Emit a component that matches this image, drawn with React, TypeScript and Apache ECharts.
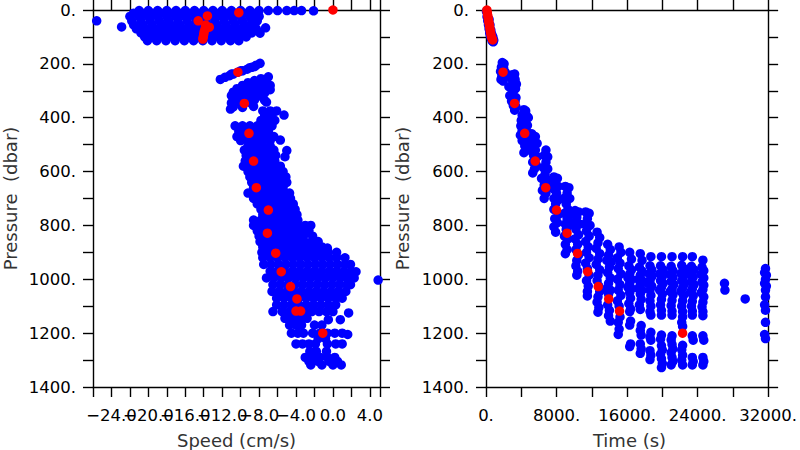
import React, { useEffect, useRef } from "react";
import * as echarts from "echarts";

// ---------- DATA ----------
// Left panel: speed (cm/s) vs pressure (dbar)
const speedBlueTop: [number, number][] = [
  [-21.0, 2], [-20.0, 2], [-19.0, 2], [-18.0, 2], [-17.0, 2], [-16.0, 2], [-15.0, 2], [-14.0, 2], [-13.0, 2], [-12.0, 2],
  [-11.0, 2], [-10.0, 2], [-9.0, 2], [-8.0, 2], [-7.0, 2], [-6.0, 2], [-5.0, 2], [-4.2, 2], [-3.4, 2], [-2.1, 3],
  [-21.6, 12], [-20.6, 12], [-19.6, 12], [-18.6, 12], [-17.6, 12], [-16.6, 12], [-15.6, 12], [-14.6, 12], [-13.6, 12],
  [-12.6, 12], [-11.6, 12], [-10.6, 12], [-9.6, 12], [-8.6, 12],
  [-22.0, 24], [-21.0, 24], [-20.0, 24], [-19.0, 24], [-18.0, 24], [-17.0, 24], [-16.0, 24], [-15.0, 24], [-14.0, 24],
  [-13.0, 24], [-12.0, 24], [-11.0, 24], [-10.0, 24], [-9.0, 24], [-8.0, 24],
  [-25.6, 40], [-21.8, 40], [-20.8, 40], [-19.8, 40], [-18.8, 40], [-17.8, 40], [-16.8, 40], [-15.8, 40], [-14.8, 40],
  [-13.8, 40], [-12.8, 40], [-11.8, 40], [-10.8, 40], [-9.8, 40], [-8.8, 40], [-8.2, 40],
  [-21.6, 55], [-20.6, 55], [-19.6, 55], [-18.6, 55], [-17.6, 55], [-16.6, 55], [-15.6, 55], [-14.6, 55], [-13.6, 55],
  [-12.6, 55], [-11.6, 55], [-10.6, 55], [-9.6, 55], [-8.6, 55],
  [-22.9, 63], [-7.3, 66],
  [-21.3, 70], [-20.3, 70], [-19.3, 70], [-18.3, 70], [-17.3, 70], [-16.3, 70], [-15.3, 70], [-14.3, 70], [-13.3, 70],
  [-12.3, 70], [-11.3, 70], [-10.3, 70], [-9.3, 70], [-8.3, 70],
  [-20.8, 85], [-19.8, 85], [-18.8, 85], [-17.8, 85], [-16.8, 85], [-15.8, 85], [-14.8, 85], [-13.8, 85], [-12.8, 85],
  [-11.8, 85], [-10.8, 85], [-9.8, 85], [-8.8, 85], [-7.9, 86],
  [-20.4, 100], [-19.4, 100], [-18.4, 100], [-17.4, 100], [-16.4, 100], [-15.4, 100], [-14.4, 100], [-13.4, 100],
  [-12.4, 100], [-11.4, 100], [-10.4, 100], [-9.4, 100],
  [-20.1, 114], [-19.1, 114], [-18.1, 114], [-17.1, 114], [-16.1, 114], [-15.1, 114], [-14.1, 114], [-13.1, 114],
  [-12.1, 114], [-11.1, 114], [-10.2, 114],
];

const speedBlueMid: [number, number][] = [
  [-12.2, 258], [-11.7, 250], [-11.2, 244], [-10.8, 238], [-10.3, 231], [-9.8, 226], [-9.3, 220], [-8.8, 213],
  [-8.3, 205], [-7.9, 198], [-11.0, 238], [-10.0, 226], [-9.0, 214], [-8.5, 210],
  [-7.0, 248], [-7.8, 255], [-8.5, 262], [-7.2, 265], [-9.2, 270], [-8.0, 272], [-6.8, 280], [-9.8, 280], [-8.6, 283],
  [-7.5, 287], [-10.4, 292], [-9.2, 294], [-8.0, 296], [-6.8, 296], [-10.8, 305], [-9.8, 305], [-8.6, 308], [-7.4, 308],
  [-11.0, 318], [-10.0, 318], [-9.0, 320], [-7.8, 320], [-10.6, 330], [-9.6, 332], [-8.5, 334], [-7.4, 336],
  [-11.0, 345], [-10.0, 345], [-8.8, 348], [-7.2, 342], [-10.8, 360], [-9.8, 362], [-8.6, 358], [-11.1, 368],
];

const speedBlueDeep: [number, number][] = [
  [-7.6, 375], [-6.8, 375], [-6.1, 375], [-7.4, 390], [-6.6, 390], [-5.3, 390], [-7.8, 410], [-7.0, 410], [-6.3, 410],
  [-10.6, 430], [-9.8, 430], [-9.0, 430], [-8.2, 430], [-7.4, 430], [-6.6, 430],
  [-10.2, 450], [-9.4, 450], [-8.6, 450], [-7.8, 450], [-7.0, 450],
  [-10.4, 470], [-9.6, 470], [-8.8, 470], [-8.0, 470], [-7.2, 470], [-6.4, 470],
  [-10.0, 485], [-9.2, 485], [-8.4, 485], [-7.6, 485], [-6.8, 485], [-5.7, 483],
  [-9.2, 505], [-8.4, 505], [-7.6, 505], [-6.8, 505],
  [-9.6, 520], [-8.8, 520], [-8.0, 520], [-7.2, 520], [-6.4, 520], [-5.0, 522],
  [-9.4, 540], [-8.6, 540], [-7.8, 540], [-7.0, 540], [-6.2, 540], [-5.2, 545],
  [-9.5, 560], [-8.7, 560], [-7.9, 560], [-7.1, 560], [-6.3, 560],
  [-9.7, 580], [-8.9, 580], [-8.1, 580], [-7.3, 580], [-6.5, 580], [-5.7, 580],
  [-9.2, 600], [-8.4, 600], [-7.6, 600], [-6.8, 600], [-6.0, 600], [-5.4, 600],
  [-9.0, 620], [-8.2, 620], [-7.4, 620], [-6.6, 620], [-5.8, 620], [-5.1, 620],
  [-8.8, 640], [-8.0, 640], [-7.2, 640], [-6.4, 640], [-5.6, 640], [-5.0, 640],
  [-8.6, 660], [-7.8, 660], [-7.0, 660], [-6.2, 660], [-5.4, 660],
  [-9.2, 680], [-8.4, 680], [-7.6, 680], [-6.8, 680], [-6.0, 680], [-5.2, 680], [-4.7, 680],
  [-8.6, 700], [-7.8, 700], [-7.0, 700], [-6.2, 700], [-5.4, 700], [-4.6, 700],
  [-8.2, 720], [-7.4, 720], [-6.6, 720], [-5.8, 720], [-5.0, 720], [-4.3, 720],
  [-7.8, 740], [-7.0, 740], [-6.2, 740], [-5.4, 740], [-4.6, 740], [-4.1, 740],
  [-7.6, 760], [-6.8, 760], [-6.0, 760], [-5.2, 760], [-4.4, 760], [-3.9, 760],
  [-8.6, 780], [-7.8, 780], [-7.0, 780], [-6.2, 780], [-5.4, 780], [-4.6, 780], [-3.8, 780],
  [-8.6, 800], [-7.8, 800], [-7.0, 800], [-6.2, 800], [-5.4, 800], [-4.6, 800], [-3.8, 800], [-3.0, 800], [-2.4, 800],
  [-8.2, 820], [-7.4, 820], [-6.6, 820], [-5.8, 820], [-5.0, 820], [-4.2, 820], [-3.4, 820], [-2.6, 820],
  [-8.0, 840], [-7.2, 840], [-6.4, 840], [-5.6, 840], [-4.8, 840], [-4.0, 840], [-3.2, 840], [-2.2, 840],
  [-7.9, 860], [-7.1, 860], [-6.3, 860], [-5.5, 860], [-4.7, 860], [-3.9, 860], [-3.1, 860], [-2.3, 860], [-1.6, 860],
  [-7.6, 880], [-6.8, 880], [-6.0, 880], [-5.2, 880], [-4.4, 880], [-3.6, 880], [-2.8, 880], [-2.0, 880], [-1.2, 880], [-0.6, 884],
  [-7.7, 900], [-6.9, 900], [-6.1, 900], [-5.3, 900], [-4.5, 900], [-3.7, 900], [-2.9, 900], [-2.1, 900], [-1.3, 900], [-0.5, 900], [0.4, 900],
  [-7.6, 920], [-6.8, 920], [-6.0, 920], [-5.2, 920], [-4.4, 920], [-3.6, 920], [-2.8, 920], [-2.0, 920], [-1.2, 920], [-0.4, 920], [0.4, 920], [1.3, 920],
  [-7.5, 945], [-6.7, 945], [-5.9, 945], [-5.1, 945], [-4.3, 945], [-3.5, 945], [-2.7, 945], [-1.9, 945], [-1.1, 945], [-0.3, 945], [0.5, 945], [1.3, 945], [1.9, 945],
  [-6.8, 970], [-6.0, 970], [-5.2, 970], [-4.4, 970], [-3.6, 970], [-2.8, 970], [-2.0, 970], [-1.2, 970], [-0.4, 970], [0.4, 970], [1.2, 970], [2.0, 970], [2.5, 972],
  [-7.2, 995], [-6.4, 995], [-5.6, 995], [-4.8, 995], [-4.0, 995], [-3.2, 995], [-2.4, 995], [-1.6, 995], [-0.8, 995], [0.0, 995], [0.8, 995], [1.6, 995], [2.3, 995],
  [4.9, 1003],
  [-6.5, 1020], [-5.7, 1020], [-4.9, 1020], [-4.1, 1020], [-3.3, 1020], [-2.5, 1020], [-1.7, 1020], [-0.9, 1020], [-0.1, 1020], [0.7, 1020], [1.5, 1020], [1.9, 1020],
  [-6.6, 1045], [-5.8, 1045], [-5.0, 1045], [-4.2, 1045], [-3.4, 1045], [-2.6, 1045], [-1.8, 1045], [-1.0, 1045], [-0.2, 1045], [0.6, 1045], [1.4, 1045],
  [-6.1, 1070], [-5.3, 1070], [-4.5, 1070], [-3.7, 1070], [-2.9, 1070], [-2.1, 1070], [-1.3, 1070], [-0.5, 1070], [0.3, 1070], [1.0, 1070],
  [-6.1, 1095], [-5.3, 1095], [-4.5, 1095], [-3.7, 1095], [-2.9, 1095], [-2.1, 1095], [-1.3, 1095], [-0.5, 1095], [0.3, 1095],
  [-6.5, 1120], [-5.5, 1120], [-4.7, 1120], [-3.9, 1120], [-3.1, 1120], [-2.3, 1120], [-1.5, 1120], [-0.7, 1120], [0.0, 1120], [1.7, 1125],
  [-5.2, 1145], [-4.4, 1145], [-3.6, 1145], [-2.8, 1145], [-0.5, 1150], [0.8, 1150],
  [-4.7, 1170], [-4.0, 1170], [-3.4, 1170], [-2.0, 1170], [-1.2, 1170],
  [-4.5, 1200], [-3.8, 1200], [-3.2, 1200], [-2.2, 1200], [-1.4, 1200], [-0.6, 1200], [0.2, 1200], [1.0, 1200], [1.6, 1205],
  [-1.6, 1220], [-0.8, 1220],
  [-4.0, 1240], [-3.3, 1240], [-2.6, 1240], [-1.9, 1240], [-0.6, 1240], [0.3, 1240], [1.0, 1240],
  [-2.5, 1268], [-1.8, 1268], [-0.7, 1268],
  [-3.0, 1290], [-2.2, 1290], [-1.4, 1290], [-0.6, 1290], [0.2, 1290],
  [-2.6, 1305], [-1.6, 1305], [-0.4, 1305], [0.5, 1305],
  [-2.4, 1318], [-1.2, 1318], [0.0, 1318], [0.9, 1318],
];

const speedRed: [number, number][] = [
  [0.0, 0], [-10.2, 10], [-13.6, 22], [-14.6, 40], [-13.8, 56], [-13.4, 64], [-13.85, 70], [-13.95, 80], [-14.0, 90],
  [-14.05, 100], [-14.1, 108], [-10.3, 231], [-9.6, 347], [-9.1, 458], [-8.6, 561], [-8.3, 660], [-7.0, 743],
  [-7.1, 829], [-6.2, 903], [-5.6, 972], [-4.6, 1027], [-3.9, 1073], [-4.0, 1118], [-3.5, 1118], [-1.1, 1200],
];

// Right panel: time (s) vs pressure (dbar)
const timeBlueDescent: [number, number][] = [
  [50, 5], [120, 25], [200, 40], [280, 55], [350, 70], [420, 85], [500, 95], [600, 105], [700, 115], [820, 118],
  [350, 35], [450, 55], [550, 75], [650, 90], [780, 100], [880, 112],
  [1850, 195], [2050, 200], [1750, 212], [2000, 215], [1650, 228], [2200, 232], [1800, 245], [2050, 250], [1700, 258], [1950, 264],
  [3000, 240], [3250, 238], [2900, 255], [3300, 258], [3100, 270], [3450, 275], [2600, 285], [2850, 290], [3350, 292],
  [3100, 300], [2700, 318], [3000, 320], [3400, 325], [2900, 338], [3300, 340], [3100, 355], [3400, 360], [3250, 372],
  [4300, 370], [4500, 375], [4100, 390], [4600, 392], [4000, 410], [4400, 412], [4800, 400], [3950, 430], [4300, 432],
  [4700, 428], [4100, 448], [4600, 450], [3900, 465], [4300, 470], [4700, 468], [4100, 485], [4500, 490], [4400, 505],
  [4800, 520], [4300, 530],
  [5200, 460], [5600, 470], [5400, 490], [5800, 495], [5200, 510], [5600, 520], [5400, 540], [5800, 545], [5300, 565],
  [5700, 575], [5500, 590], [5300, 605],
  [6800, 520], [6600, 540], [7000, 545], [6800, 565], [6500, 585], [7000, 590], [6700, 610], [6300, 625], [6900, 630],
  [6600, 650], [7100, 655], [6400, 670], [6800, 680], [6600, 700],
  [7700, 620], [8100, 625], [7800, 640], [8200, 655], [7700, 665], [8000, 680], [7700, 700], [8200, 705], [7900, 720],
  [7700, 740], [8200, 760], [7800, 775], [8100, 790], [7700, 805], [7900, 825],
  [9000, 655], [9400, 660], [9200, 680], [8800, 700], [9500, 700], [9100, 720], [9300, 740], [8900, 755], [9600, 760],
  [9200, 775], [9000, 795], [9400, 800], [9100, 815], [8900, 840], [9300, 850], [9000, 870], [9200, 890], [9000, 905],
  [10100, 745], [10500, 750], [10300, 770], [10000, 790], [10600, 795], [10200, 815], [10500, 835], [10100, 850],
  [10400, 870], [10200, 890], [10500, 910], [10300, 930], [10200, 950], [10400, 970], [10300, 985],
  [11300, 750], [11700, 755], [11500, 775], [11200, 795], [11800, 800], [11400, 820], [11700, 840], [11300, 860],
  [11600, 880], [11400, 900], [11700, 920], [11300, 940], [11500, 960], [11700, 985], [11400, 1005], [11600, 1025],
  [11500, 1045], [11500, 1062],
  [12600, 825], [12900, 845], [12700, 865], [12500, 885], [12900, 905], [12700, 925], [12500, 945], [12900, 965],
  [12700, 985], [12600, 1005], [12800, 1025], [12900, 1045], [12700, 1065], [12600, 1085], [12800, 1105], [12700, 1122],
  [13800, 870], [14100, 890], [13900, 910], [13700, 930], [14200, 935], [14000, 955], [13800, 975], [14100, 995],
  [13900, 1015], [13700, 1035], [14100, 1040], [13900, 1055], [13800, 1095], [14000, 1115], [13900, 1135], [14100, 1155],
  [15100, 880], [15300, 900], [14900, 920], [15200, 940], [15000, 960], [15300, 980], [14900, 1000], [15200, 1020],
  [15000, 1040], [15300, 1060], [14900, 1080], [15100, 1100], [15200, 1140], [15000, 1160], [15100, 1185], [15000, 1205],
];

const timeBlueBottom: [number, number][] = [
  [16300, 900], [16500, 925], [16200, 950], [16500, 965], [16300, 980], [16100, 995], [16500, 1000], [16300, 1015],
  [16100, 1030], [16500, 1035], [16300, 1050], [16400, 1070], [16200, 1090], [16400, 1110], [16300, 1120],
  [16400, 1155], [16300, 1170], [16400, 1240], [16300, 1250],
  [17500, 905], [17700, 930], [17400, 955], [17700, 970], [17500, 985], [17300, 1000], [17700, 1005], [17500, 1020],
  [17300, 1035], [17700, 1040], [17500, 1055], [17600, 1075], [17400, 1095], [17500, 1112],
  [17600, 1172], [17500, 1190], [17600, 1207], [17500, 1240], [17600, 1258], [17500, 1275],
  [18700, 916], [18600, 950], [18800, 965], [18500, 980], [18800, 990], [18600, 1005], [18400, 1015], [18800, 1025],
  [18600, 1040], [18700, 1060], [18600, 1080], [18700, 1100], [18600, 1120], [18700, 1133],
  [18700, 1197], [18600, 1215], [18700, 1226], [18600, 1265], [18700, 1282], [18600, 1298],
  [19900, 916], [19800, 950], [20100, 965], [19700, 980], [20000, 990], [19800, 1005], [20100, 1015], [19900, 1030],
  [19700, 1040], [20000, 1055], [19900, 1075], [19800, 1095], [19900, 1115], [19900, 1133],
  [19900, 1207], [19800, 1222], [19900, 1246], [20000, 1262], [19800, 1278], [19900, 1295], [20000, 1312], [19900, 1328],
  [21100, 916], [21000, 952], [21200, 968], [20900, 982], [21200, 993], [21000, 1008], [21300, 1020], [21100, 1035],
  [20900, 1045], [21200, 1058], [21100, 1078], [21000, 1098], [21100, 1118], [21100, 1133],
  [21100, 1210], [21000, 1225], [21100, 1242], [21200, 1258], [21000, 1272], [21100, 1290], [21200, 1305], [21000, 1318],
  [22300, 916], [22200, 948], [22500, 962], [22100, 978], [22400, 990], [22200, 1005], [22500, 1018], [22300, 1032],
  [22100, 1045], [22400, 1060], [22300, 1080], [22200, 1100], [22300, 1120], [22300, 1140], [22200, 1160], [22300, 1175],
  [22300, 1245], [22200, 1262], [22300, 1282], [22200, 1300], [22300, 1318],
  [23400, 916], [23300, 952], [23600, 965], [23200, 980], [23500, 992], [23300, 1008], [23600, 1020], [23400, 1035],
  [23200, 1048], [23500, 1062], [23400, 1082], [23300, 1100], [23400, 1118], [23400, 1133],
  [23400, 1210], [23500, 1226], [23400, 1290], [23500, 1305], [23400, 1318],
  [24600, 929], [24500, 955], [24700, 968], [24400, 982], [24700, 995], [24500, 1010], [24700, 1022], [24600, 1038],
  [24400, 1050], [24700, 1065], [24600, 1085], [24500, 1102], [24600, 1120], [24600, 1135],
  [24600, 1210], [24700, 1226], [24600, 1290], [24700, 1305], [24600, 1318],
  [27050, 1015], [27100, 1040], [29400, 1073],
  [31700, 960], [31600, 975], [31800, 985], [31700, 1000], [31600, 1015], [31800, 1025], [31700, 1040],
  [31700, 1065], [31600, 1095], [31700, 1115], [31700, 1160], [31600, 1205], [31700, 1220],
];

const timeRed: [number, number][] = [
  [100, 0], [150, 10], [200, 20], [250, 30], [300, 40], [350, 50], [400, 60], [450, 70], [500, 80], [560, 90],
  [620, 100], [700, 107], [760, 111],
  [1935, 231], [3238, 347], [4392, 458], [5583, 561], [6774, 660], [8002, 743], [9193, 829], [10384, 904],
  [11538, 972], [12729, 1027], [13920, 1073], [15149, 1118], [22295, 1200],
];

// Axis settings / tick labels
const pressureRange = [0, 1400];
const speedRange = [-26, 5.1];
const timeRange = [0, 32000];

const FONT = "DejaVu Sans";
const BLUE = "#0000ff";
const RED = "#ff0000";

const line = { show: true, onZero: false, lineStyle: { color: "#000", width: 1.4 } };
const tick = { show: true, inside: false, length: 10, lineStyle: { color: "#000", width: 1.4 } };

const speedFmt = (v: number) => {
  const r = Math.round(v * 10) / 10;
  if (Math.abs(r % 4) > 1e-6) return "";
  return (r < 0 ? "\u2212" : "") + Math.abs(r).toFixed(1);
};
const pressFmt = (v: number) => (Math.abs(v % 200) < 1e-6 ? `${Math.round(v)}.` : "");
const timeFmt = (v: number) => (Math.abs(v % 8000) < 1e-6 ? `${Math.round(v)}.` : "");

export default function App() {
  const ref = useRef<HTMLDivElement>(null);
  useEffect(() => {
    if (!ref.current) return;
    const chart = echarts.init(ref.current, undefined, { renderer: "svg" });
    const labelBase = { color: "#000", fontSize: 16.5, fontFamily: FONT };
    const xBase = (grid: number, min: number, max: number, interval: number, pos: string, fmt: any) => ({
      type: "value",
      gridIndex: grid,
      position: pos,
      min,
      max,
      interval,
      axisLine: line,
      axisTick: tick,
      splitLine: { show: false },
      axisLabel: fmt
        ? { ...labelBase, margin: 20, formatter: fmt, showMinLabel: true, showMaxLabel: true }
        : { show: false },
    });
    const yBase = (grid: number, pos: string, fmt: any) => ({
      type: "value",
      gridIndex: grid,
      position: pos,
      inverse: true,
      min: pressureRange[0],
      max: pressureRange[1],
      interval: 100,
      axisLine: line,
      axisTick: tick,
      splitLine: { show: false },
      axisLabel: fmt ? { ...labelBase, margin: 17, formatter: fmt } : { show: false },
    });
    const scatter = (xi: number, yi: number, data: [number, number][], color: string, z: number) => ({
      type: "scatter",
      xAxisIndex: xi,
      yAxisIndex: yi,
      data,
      symbol: "circle",
      symbolSize: 9.5,
      itemStyle: { color, opacity: 1 },
      z,
      silent: true,
    });
    chart.setOption({
      animation: false,
      backgroundColor: "#fff",
      grid: [
        { left: 93, top: 10, width: 287, height: 377 },
        { left: 486, top: 10, width: 287, height: 377 },
      ],
      xAxis: [
        xBase(0, speedRange[0], speedRange[1], 2, "bottom", speedFmt),
        xBase(0, speedRange[0], speedRange[1], 2, "top", null),
        xBase(1, timeRange[0], timeRange[1], 4000, "bottom", timeFmt),
        xBase(1, timeRange[0], timeRange[1], 4000, "top", null),
      ],
      yAxis: [yBase(0, "left", pressFmt), yBase(0, "right", null), yBase(1, "left", pressFmt), yBase(1, "right", null)],
      series: [
        scatter(0, 0, speedBlueTop, BLUE, 2),
        scatter(0, 0, speedBlueMid, BLUE, 2),
        scatter(0, 0, speedBlueDeep, BLUE, 2),
        scatter(0, 0, speedRed, RED, 3),
        scatter(2, 2, timeBlueDescent, BLUE, 2),
        scatter(2, 2, timeBlueBottom, BLUE, 2),
        scatter(2, 2, timeRed, RED, 3),
      ],
      graphic: [
        {
          type: "text", x: 236.5, y: 440,
          style: { text: "Speed (cm/s)", fontSize: 18, fontFamily: FONT, fill: "#333", textAlign: "center", textVerticalAlign: "middle" },
        },
        {
          type: "text", x: 629.5, y: 440,
          style: { text: "Time (s)", fontSize: 18, fontFamily: FONT, fill: "#333", textAlign: "center", textVerticalAlign: "middle" },
        },
        {
          type: "text", x: 10, y: 198.5, rotation: Math.PI / 2,
          style: { text: "Pressure  (dbar)", fontSize: 18, fontFamily: FONT, fill: "#333", textAlign: "center", textVerticalAlign: "middle" },
        },
        {
          type: "text", x: 402, y: 198.5, rotation: Math.PI / 2,
          style: { text: "Pressure  (dbar)", fontSize: 18, fontFamily: FONT, fill: "#333", textAlign: "center", textVerticalAlign: "middle" },
        },
      ],
    });
    return () => chart.dispose();
  }, []);
  return <div ref={ref} style={{ position: "fixed", left: 0, top: 0, width: 800, height: 450 }} />;
}
